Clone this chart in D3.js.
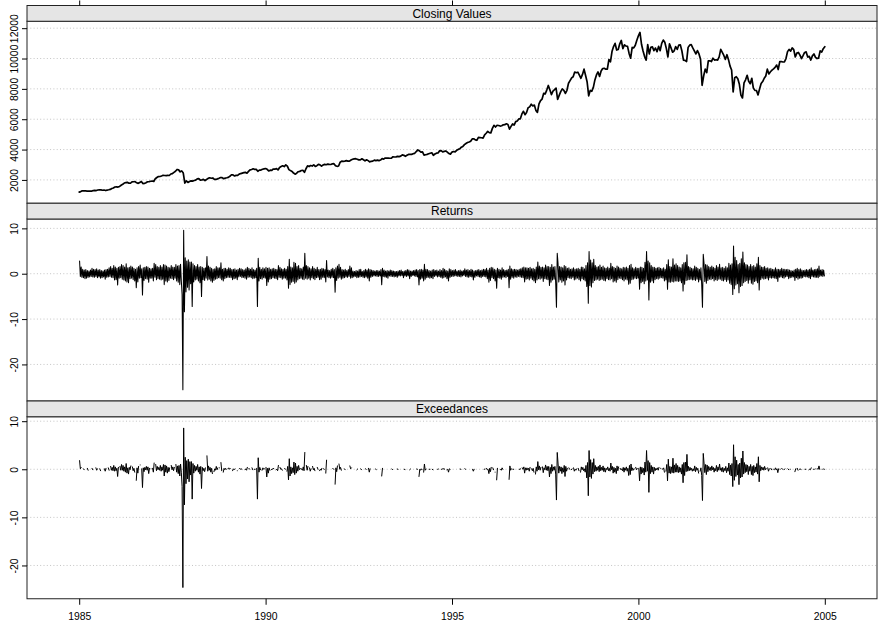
<!DOCTYPE html>
<html>
<head>
<meta charset="utf-8">
<script src="https://cdn.jsdelivr.net/npm/d3@7"></script>
<style>
  body { margin: 0; background: #fff; }
  svg text { font-family: "Liberation Sans", Arial, Helvetica, sans-serif; fill: #000; }
</style>
</head>
<body>
<svg id="chart" width="878" height="622"></svg>
<script>
// ---- Dow Jones Industrial Average, 1985-2004 ----------------------------
// Missing entries: stretches in which no daily return leaves the threshold band.
const _ = null;

const years = [1985, 1986, 1987, 1988, 1989, 1990, 1991, 1992, 1993, 1994,
               1995, 1996, 1997, 1998, 1999, 2000, 2001, 2002, 2003, 2004];

// Closing values: first close, then per year mid-month / month-end pairs (Jan..Dec).
const closingStart = 1199;
const cls1985 = [1230,1287, 1280,1284, 1260,1267, 1265,1258, 1300,1315, 1300,1335, 1350,1347, 1320,1334, 1300,1329, 1350,1374, 1435,1472, 1535,1547];
const cls1986 = [1530,1571, 1650,1709, 1795,1819, 1840,1784, 1780,1877, 1880,1893, 1810,1775, 1835,1898, 1760,1768, 1810,1878, 1890,1914, 1930,1896];
const cls1987 = [2080,2158, 2220,2224, 2260,2305, 2290,2286, 2300,2292, 2390,2419, 2500,2572, 2690,2663, 2530,2596, 2450,1790, 1940,1834, 1900,1939];
const cls1988 = [1920,1958, 1990,2072, 2090,1988, 2000,2032, 1960,2031, 2100,2142, 2110,2129, 2040,2032, 2070,2113, 2160,2149, 2080,2115, 2140,2169];
const cls1989 = [2240,2342, 2330,2258, 2300,2294, 2380,2419, 2450,2480, 2500,2440, 2560,2661, 2690,2737, 2690,2693, 2570,2645, 2650,2706, 2730,2753];
const cls1990 = [2700,2591, 2640,2627, 2720,2707, 2750,2657, 2820,2877, 2930,2881, 2990,2905, 2680,2614, 2560,2452, 2380,2442, 2540,2560, 2620,2634];
const cls1991 = [2500,2736, 2930,2882, 2950,2914, 2990,2888, 2940,3028, 2990,2907, 2980,3025, 3000,3044, 3020,3017, 3060,3069, 2940,2895, 2920,3169];
const cls1992 = [3240,3223, 3240,3268, 3240,3235, 3310,3359, 3390,3397, 3360,3319, 3320,3394, 3330,3257, 3330,3272, 3190,3226, 3240,3305, 3270,3301];
const cls1993 = [3270,3310, 3400,3371, 3440,3435, 3440,3428, 3440,3527, 3510,3516, 3550,3539, 3570,3651, 3620,3555, 3620,3681, 3690,3684, 3730,3754];
const cls1994 = [3870,3978, 3920,3832, 3850,3636, 3660,3682, 3720,3758, 3790,3625, 3710,3765, 3780,3913, 3930,3843, 3880,3908, 3830,3739, 3700,3834];
const cls1995 = [3870,3844, 3950,4011, 4050,4158, 4210,4321, 4400,4465, 4500,4556, 4700,4708, 4640,4611, 4800,4789, 4780,4755, 4970,5074, 5200,5117];
const cls1996 = [5100,5395, 5600,5486, 5600,5587, 5550,5569, 5630,5643, 5700,5655, 5350,5529, 5690,5616, 5840,5882, 6020,6029, 6350,6522, 6300,6448];
const cls1997 = [6750,6813, 6990,6878, 6930,6583, 6450,7009, 7230,7331, 7700,7673, 7920,8223, 7940,7622, 7850,7945, 8050,7300, 7570,7823, 8000,7908];
const cls1998 = [7700,7907, 8370,8546, 8720,8800, 9110,9063, 9100,8900, 8700,8952, 9300,8883, 8450,7539, 7900,7843, 8100,8592, 8920,9117, 8820,9181];
const cls1999 = [9340,9359, 9300,9307, 9930,9786, 10460,10789, 11000,10560, 10600,10971, 11190,10655, 10900,10829, 10800,10337, 10020,10730, 10700,10878, 11200,11497];
const cls2000 = [11720,10941, 10500,10128, 9900,10922, 10300,10734, 10770,10522, 10690,10448, 10800,10522, 11000,11215, 11070,10651, 10100,10971, 10700,10414, 10500,10788];
const cls2001 = [10600,10887, 10900,10495, 9900,9879, 9800,10735, 10880,10912, 10700,10502, 10300,10523, 10300,9950, 8236,8848, 9300,9075, 9850,9852, 9800,10022];
const cls2002 = [9900,9920, 9900,10106, 10600,10404, 10200,9946, 10250,9925, 9500,9243, 7800,8737, 8800,8664, 8300,7592, 7400,8397, 8600,8896, 8500,8342];
const cls2003 = [8700,8054, 7900,7891, 7600,7992, 8350,8480, 8700,8850, 9300,8985, 9130,9234, 9320,9416, 9570,9275, 9800,9801, 9770,9782, 10000,10454];
const cls2004 = [10600,10488, 10700,10584, 10100,10358, 10400,10226, 10000,10188, 10400,10435, 10100,10140, 9900,10174, 10300,10080, 10000,10027, 10500,10428, 10650,10783];

// Daily log returns (%), four swings per month (Jan..Dec).
const ret1985 = [2.8,-0.6,1.5,-0.8, 1.0,-0.9,0.8,-1.1, 0.9,-1.0,0.7,-0.8, 0.6,-0.7,0.8,-0.6, 1.2,-0.7,1.0,-0.8, 0.9,-0.6,1.1,-0.9, 0.8,-0.7,0.9,-1.0, 0.7,-0.9,0.6,-0.7, 0.8,-1.2,0.9,-0.8, 1.0,-0.7,1.3,-0.6, 1.6,-0.8,1.2,-0.9, 1.8,-1.4,1.5,-1.3];
const ret1986 = [1.2,-2.5,1.4,-1.0, 1.6,-0.9,2.0,-1.2, 1.8,-1.4,1.5,-1.6, 2.2,-1.8,1.3,-2.0, 1.4,-1.1,1.7,-1.0, 1.5,-1.3,1.2,-1.6, 1.0,-3.1,1.3,-1.8, 1.6,-1.0,1.9,-0.9, 1.1,-4.7,1.3,-1.5, 1.4,-1.1,1.6,-1.2, 1.5,-1.9,1.2,-1.0, 1.1,-1.0,1.2,-1.6];
const ret1987 = [2.3,-0.8,2.0,-1.3, 1.6,-1.1,1.4,-1.2, 1.8,-1.4,1.5,-1.2, 2.0,-2.4,1.9,-1.6, 1.7,-1.8,1.4,-1.5, 1.3,-1.0,1.8,-1.1, 1.5,-1.3,1.4,-1.0, 2.0,-1.6,1.7,-1.9, 1.8,-2.4,2.1,-1.6, -4.6,-25.6,9.6,-8.4, 3.5,-4.0,2.8,-3.0, 3.1,-3.6,2.6,-2.2];
const ret1988 = [2.6,-7.2,2.2,-1.8, 1.8,-1.4,1.6,-1.2, 2.0,-1.6,1.5,-2.0, 1.6,-5.0,1.4,-1.3, 1.2,-1.5,1.3,-1.0, 3.8,-1.4,1.7,-1.2, 1.4,-1.6,1.2,-1.9, 1.0,-1.5,1.1,-1.2, 1.6,-1.1,1.3,-0.9, 1.3,-1.0,2.4,-1.3, 1.0,-1.6,1.2,-1.1, 1.2,-0.9,1.0,-0.8];
const ret1989 = [1.3,-0.8,1.2,-0.9, 0.9,-1.3,1.0,-1.1, 1.1,-1.0,0.8,-1.3, 1.0,-0.7,1.2,-0.6, 1.1,-0.9,0.9,-0.8, 0.8,-1.0,1.1,-1.2, 1.4,-0.8,1.2,-0.7, 1.0,-0.9,1.3,-1.1, 0.9,-1.0,0.8,-0.9, 1.2,-7.2,3.4,-1.6, 1.4,-1.1,1.0,-1.2, 1.3,-0.9,1.1,-1.0];
const ret1990 = [1.4,-2.6,1.2,-1.8, 1.3,-1.2,1.0,-1.1, 1.1,-0.9,1.2,-1.0, 1.0,-1.1,0.9,-1.3, 1.8,-0.8,1.4,-0.9, 1.1,-1.2,1.0,-1.0, 1.2,-1.0,1.0,-1.4, 1.6,-3.2,3.2,-2.4, 1.5,-1.9,1.3,-1.7, 2.5,-2.1,2.3,-1.8, 1.6,-1.4,1.8,-1.1, 1.2,-1.0,1.1,-1.2];
const ret1991 = [1.5,-1.3,4.5,-1.0, 1.8,-1.2,1.6,-1.0, 1.3,-1.4,1.1,-0.9, 1.6,-1.1,1.2,-1.3, 1.0,-0.9,1.4,-0.8, 0.9,-1.3,1.0,-1.2, 1.2,-0.8,1.1,-0.9, 0.9,-1.8,2.9,-0.7, 0.8,-0.9,0.7,-1.0, 1.0,-0.8,1.2,-0.9, 0.9,-4.1,1.3,-1.5, 1.7,-1.0,2.1,-0.8];
const ret1992 = [1.4,-1.2,0.9,-1.0, 0.8,-0.9,1.0,-0.7, 0.7,-0.8,0.9,-0.6, 1.7,-1.0,1.3,-0.9, 0.6,-0.7,0.5,-0.6, 0.7,-0.9,0.6,-0.8, 0.9,-0.7,1.0,-0.6, 0.5,-0.8,0.7,-0.9, 1.0,-0.7,0.8,-1.0, 1.1,-1.6,0.9,-0.8, 0.8,-0.6,0.7,-0.5, 0.6,-0.5,0.7,-0.6];
const ret1993 = [0.7,-0.6,0.6,-0.5, 0.9,-2.4,1.2,-0.6, 0.8,-0.7,0.6,-0.8, 0.7,-1.0,0.6,-0.5, 0.8,-0.6,0.7,-0.6, 0.6,-0.7,0.5,-0.6, 0.5,-0.8,0.6,-0.5, 0.7,-0.5,0.8,-0.4, 0.5,-0.9,0.6,-0.5, 0.7,-0.6,0.9,-0.5, 0.8,-1.1,0.6,-0.6, 0.6,-0.4,0.7,-0.5];
const ret1994 = [0.8,-0.6,0.9,-0.7, 0.7,-2.5,0.9,-1.2, 1.0,-1.0,0.8,-1.6, 2.1,-1.2,1.0,-0.9, 0.9,-0.8,0.7,-1.0, 0.6,-0.9,0.8,-1.1, 0.9,-0.6,0.7,-0.5, 0.8,-0.7,0.6,-0.6, 0.9,-0.8,0.7,-1.0, 1.2,-0.9,1.0,-0.7, 0.7,-1.1,0.6,-1.6, 1.1,-0.8,0.9,-0.6];
const ret1995 = [0.7,-0.6,0.8,-0.5, 0.9,-0.5,0.6,-0.6, 0.7,-0.6,0.8,-0.7, 0.6,-0.5,0.7,-0.4, 1.1,-0.6,0.8,-0.7, 0.9,-0.8,0.7,-0.6, 1.0,-0.7,0.8,-1.4, 0.6,-0.8,0.7,-0.5, 0.8,-0.6,0.9,-0.7, 0.7,-0.9,0.8,-0.6, 1.0,-0.6,0.9,-0.7, 1.2,-1.1,0.8,-1.9];
const ret1996 = [1.2,-1.5,1.4,-0.9, 1.3,-1.1,1.0,-1.6, 0.8,-3.2,1.2,-0.9, 1.0,-1.0,0.8,-1.2, 1.3,-0.8,0.9,-0.7, 0.7,-0.9,0.8,-0.6, 1.0,-3.1,1.7,-1.2, 1.1,-0.8,0.9,-1.0, 1.0,-0.7,0.9,-0.8, 0.8,-0.6,1.0,-0.7, 1.1,-0.8,1.3,-0.9, 1.5,-1.8,1.3,-1.2];
const ret1997 = [1.3,-1.1,1.2,-1.4, 1.4,-1.0,1.1,-1.3, 1.2,-1.6,1.0,-2.0, 1.5,-1.4,2.6,-1.1, 1.7,-1.2,1.4,-1.0, 1.5,-1.7,1.3,-1.1, 1.9,-1.2,1.6,-1.3, 1.6,-2.6,1.4,-1.9, 2.0,-1.4,1.5,-1.2, 1.6,-2.0,-7.4,4.5, 2.3,-1.8,1.6,-1.4, 1.5,-1.9,1.3,-1.6];
const ret1998 = [1.8,-2.5,1.6,-1.4, 1.2,-0.9,1.3,-1.0, 1.0,-1.1,1.1,-0.8, 1.3,-1.4,1.0,-1.2, 1.1,-1.0,1.2,-1.3, 1.0,-1.6,1.5,-1.1, 1.4,-1.3,1.1,-1.6, 1.8,-2.8,2.4,-6.5, 4.9,-2.6,3.0,-2.9, 2.4,-2.0,3.2,-1.5, 1.8,-1.4,1.5,-1.2, 1.6,-1.5,1.9,-1.3];
const ret1999 = [1.4,-1.2,1.7,-1.5, 1.3,-1.6,1.2,-1.1, 1.5,-1.3,1.2,-1.4, 2.3,-1.1,1.6,-1.8, 1.4,-1.6,1.2,-1.9, 1.7,-1.3,1.5,-1.0, 1.2,-1.1,1.1,-1.3, 1.4,-1.6,1.3,-1.2, 1.5,-1.4,1.2,-2.3, 1.8,-2.1,2.1,-1.3, 1.3,-1.2,1.1,-1.0, 1.4,-1.1,1.2,-1.0];
const ret2000 = [1.2,-3.4,1.5,-2.0, 1.4,-1.7,1.2,-2.2, 2.5,-1.6,4.9,-1.4, 2.8,-5.8,2.4,-1.9, 1.8,-1.6,1.5,-2.0, 1.4,-1.3,1.2,-1.1, 1.3,-1.2,1.4,-1.0, 1.2,-0.9,1.1,-1.0, 1.3,-1.6,1.0,-1.4, 2.0,-3.4,3.1,-1.8, 1.6,-1.9,1.5,-1.7, 3.3,-1.8,1.9,-1.6];
const ret2001 = [2.2,-1.6,1.8,-1.7, 1.5,-1.6,1.3,-2.0, 2.0,-3.8,2.4,-2.3, 2.5,-1.5,4.2,-1.4, 1.6,-1.3,1.4,-1.2, 1.2,-1.4,1.1,-1.3, 1.7,-1.5,1.4,-1.2, 1.2,-1.8,1.0,-1.4, 1.3,-2.3,-7.4,4.3, 2.3,-1.7,2.0,-2.1, 1.9,-1.5,1.6,-1.2, 1.4,-1.3,1.7,-1.1];
const ret2002 = [1.4,-1.6,1.2,-1.3, 1.8,-1.5,1.5,-1.2, 2.1,-1.2,1.3,-1.5, 1.4,-1.6,1.2,-1.3, 1.6,-1.7,1.3,-1.4, 2.3,-2.1,1.9,-2.4, 2.2,-4.6,6.1,-3.3, 3.6,-2.5,2.9,-2.2, 2.0,-4.2,2.3,-2.8, 3.3,-2.6,4.8,-2.0, 2.4,-1.7,2.0,-1.5, 1.9,-2.1,1.6,-1.4];
const ret2003 = [2.0,-2.1,1.6,-2.3, 1.8,-1.7,1.5,-1.6, 2.2,-2.0,3.6,-3.6, 1.8,-1.3,1.5,-1.0, 1.4,-1.2,1.6,-1.1, 1.2,-1.0,1.3,-1.4, 1.1,-0.9,1.2,-1.0, 1.0,-0.9,0.9,-1.0, 1.3,-1.1,1.0,-1.7, 1.0,-0.8,0.9,-0.7, 1.2,-0.9,1.0,-1.0, 1.0,-0.7,0.9,-0.6];
const ret2004 = [1.0,-1.1,0.8,-0.9, 0.7,-0.8,0.6,-0.7, 0.8,-1.5,1.0,-0.9, 1.2,-1.2,0.9,-1.0, 1.1,-1.0,0.8,-0.9, 0.7,-0.6,0.8,-0.7, 0.9,-0.7,0.8,-0.9, 1.0,-1.1,1.3,-0.6, 0.8,-0.7,0.9,-0.8, 1.0,-0.8,1.1,-0.9, 1.7,-0.6,0.8,-0.5, 0.9,-0.6,0.8,-0.5];

// Exceedances beyond the threshold band (%), same four slots per month.
const exc1985 = [1.8,0.1,0.4,_, _,0.1,-0.1,_, _,_,0.2,-0.2, _,_,_,_, 0.2,-0.1,_,_, _,0.3,-0.2,0.1, _,_,0.1,-0.3, _,_,_,_, 0.1,-0.4,0.2,_, _,0.3,-0.2,_, 0.6,-0.2,0.4,-0.3, 0.8,-0.4,0.5,-0.3];
const exc1986 = [0.2,-1.5,0.4,_, 0.6,-0.2,1.0,-0.2, 0.8,-0.4,0.5,-0.6, 1.2,-0.8,0.3,-1.0, 0.4,-0.1,0.7,_, 0.5,-0.3,0.2,-0.6, _,-2.3,0.3,-0.8, 0.6,_,0.9,_, 0.1,-3.8,0.3,-0.5, 0.4,-0.1,0.6,-0.2, 0.5,-0.9,0.2,_, 0.1,_,0.2,-0.6];
const exc1987 = [1.3,_,1.0,-0.3, 0.6,-0.1,0.4,-0.2, 0.8,-0.4,0.5,-0.2, 1.0,-1.4,0.9,-0.6, 0.7,-0.8,0.4,-0.5, 0.3,_,0.8,-0.1, 0.5,-0.3,0.4,_, 1.0,-0.6,0.7,-0.9, 0.8,-1.4,1.1,-0.6, -3.6,-24.6,8.6,-7.4, 2.5,-3.0,1.8,-2.0, 2.1,-2.6,1.6,-1.2];
const exc1988 = [1.6,-6.2,1.2,-0.8, 0.8,-0.4,0.6,-0.2, 1.0,-0.6,0.5,-1.0, 0.6,-4.0,0.4,-0.3, 0.2,-0.5,0.3,_, 2.8,-0.4,0.7,-0.2, 0.4,-0.6,0.2,-0.9, _,-0.5,0.1,-0.2, 0.6,-0.1,0.3,_, 0.3,_,1.4,-0.3, _,-0.6,0.2,-0.1, 0.2,0.0,_,0.1];
const exc1989 = [0.3,0.0,0.2,_, _,-0.3,0.1,-0.1, 0.1,_,_,-0.3, _,_,0.2,0.0, 0.1,0.0,_,_, _,-0.1,0.1,-0.2, 0.4,_,0.2,0.0, _,_,0.3,-0.1, _,0.0,0.0,_, 0.2,-6.2,2.4,-0.6, 0.4,-0.1,_,-0.2, 0.3,0.0,0.1,_];
const exc1990 = [0.4,-1.6,0.2,-0.8, 0.3,-0.2,_,-0.1, 0.1,0.0,0.2,_, _,-0.1,0.0,-0.3, 0.8,_,0.4,0.0, 0.1,-0.2,_,_, 0.2,0.0,_,-0.4, 0.6,-2.2,2.2,-1.4, 0.5,-0.9,0.3,-0.7, 1.5,-1.1,1.3,-0.8, 0.6,-0.4,0.8,-0.1, 0.2,0.0,0.1,-0.2];
const exc1991 = [0.5,-0.3,3.5,_, 0.8,-0.2,0.6,_, 0.3,-0.4,0.1,_, 0.6,-0.1,0.2,-0.3, _,_,0.4,0.0, _,-0.3,0.0,-0.2, 0.2,_,0.1,0.0, _,-0.8,1.9,_, _,_,_,_, _,_,0.2,0.0, _,-3.1,0.3,-0.5, 0.7,_,1.1,0.0];
const exc1992 = [0.4,-0.2,_,_, _,0.1,-0.1,_, _,_,_,_, 0.7,0.1,0.3,_, _,_,_,_, _,-0.1,0.05,_, _,_,0.1,-0.1, _,_,_,_, 0.1,0.0,_,_, 0.2,-0.6,0.1,_, _,_,_,_, _,0.05,-0.05,_];
const exc1993 = [_,_,_,_, _,-1.4,0.2,_, _,_,_,_, _,_,_,_, _,_,0.05,-0.05, _,_,_,_, _,0.05,0.0,_, _,_,_,_, _,_,0.0,-0.05, _,_,_,_, _,-0.1,0.05,_, _,_,_,_];
const exc1994 = [_,_,0.05,0.0, _,-1.5,0.0,-0.2, 0.1,-0.1,_,-0.6, 1.1,-0.2,0.05,_, _,_,0.0,0.0, _,_,0.0,-0.1, _,_,_,_, _,0.0,0.05,_, _,_,0.0,0.0, 0.2,0.0,0.05,_, _,-0.1,0.0,-0.6, 0.1,0.0,_,_];
const exc1995 = [_,_,_,_, _,_,_,_, _,_,0.05,0.0, _,_,_,_, 0.1,0.0,_,_, _,_,_,_, _,_,0.0,-0.4, 0.0,_,_,_, _,_,_,_, _,_,_,_, _,0.0,0.05,_, 0.2,-0.1,0.0,-0.9];
const exc1996 = [0.2,-0.5,0.4,_, 0.3,-0.1,_,-0.6, _,-2.2,0.2,_, _,_,0.0,-0.2, 0.3,0.0,_,_, _,_,_,_, _,-2.1,0.7,-0.2, 0.1,_,0.0,0.0, _,_,_,_, _,_,0.0,0.0, 0.1,_,0.3,0.0, 0.5,-0.8,0.3,-0.2];
const exc1997 = [0.3,-0.1,0.2,-0.4, 0.4,_,0.1,-0.3, 0.2,-0.6,_,-1.0, 0.5,-0.4,1.6,-0.1, 0.7,-0.2,0.4,_, 0.5,-0.7,0.3,-0.1, 0.9,-0.2,0.6,-0.3, 0.6,-1.6,0.4,-0.9, 1.0,-0.4,0.5,-0.2, 0.6,-1.0,-6.4,3.5, 1.3,-0.8,0.6,-0.4, 0.5,-0.9,0.3,-0.6];
const exc1998 = [0.8,-1.5,0.6,-0.4, 0.2,_,0.3,0.0, _,-0.1,0.1,_, 0.3,-0.4,0.0,-0.2, 0.1,_,0.2,-0.3, _,-0.6,0.5,-0.1, 0.4,-0.3,0.1,-0.6, 0.8,-1.8,1.4,-5.5, 3.9,-1.6,2.0,-1.9, 1.4,-1.0,2.2,-0.5, 0.8,-0.4,0.5,-0.2, 0.6,-0.5,0.9,-0.3];
const exc1999 = [0.4,-0.2,0.7,-0.5, 0.3,-0.6,0.2,-0.1, 0.5,-0.3,0.2,-0.4, 1.3,-0.1,0.6,-0.8, 0.4,-0.6,0.2,-0.9, 0.7,-0.3,0.5,_, 0.2,-0.1,0.1,-0.3, 0.4,-0.6,0.3,-0.2, 0.5,-0.4,0.2,-1.3, 0.8,-1.1,1.1,-0.3, 0.3,-0.2,0.1,_, 0.4,-0.1,0.2,_];
const exc2000 = [0.2,-2.4,0.5,-1.0, 0.4,-0.7,0.2,-1.2, 1.5,-0.6,3.9,-0.4, 1.8,-4.8,1.4,-0.9, 0.8,-0.6,0.5,-1.0, 0.4,-0.3,0.2,-0.1, 0.3,-0.2,0.4,_, 0.2,_,0.1,0.0, 0.3,-0.6,_,-0.4, 1.0,-2.4,2.1,-0.8, 0.6,-0.9,0.5,-0.7, 2.3,-0.8,0.9,-0.6];
const exc2001 = [1.2,-0.6,0.8,-0.7, 0.5,-0.6,0.3,-1.0, 1.0,-2.8,1.4,-1.3, 1.5,-0.5,3.1,-0.4, 0.6,-0.3,0.4,-0.2, 0.2,-0.4,0.1,-0.3, 0.7,-0.5,0.4,-0.2, 0.2,-0.8,_,-0.4, 0.3,-1.3,-6.5,3.3, 1.3,-0.7,1.0,-1.1, 0.9,-0.5,0.6,-0.2, 0.4,-0.3,0.7,-0.1];
const exc2002 = [0.4,-0.6,0.2,-0.3, 0.8,-0.5,0.5,-0.2, 1.1,-0.2,0.3,-0.5, 0.4,-0.6,0.2,-0.3, 0.6,-0.7,0.3,-0.4, 1.3,-1.1,0.9,-1.4, 1.2,-3.6,5.1,-2.3, 2.6,-1.5,1.9,-1.2, 1.0,-3.2,1.3,-1.8, 2.3,-1.6,3.8,-1.0, 1.4,-0.7,1.0,-0.5, 0.9,-1.1,0.6,-0.4];
const exc2003 = [1.0,-1.1,0.6,-1.3, 0.8,-0.7,0.5,-0.6, 1.2,-1.0,2.6,-2.6, 0.8,-0.3,0.5,-0.1, 0.4,-0.2,0.6,-0.1, 0.2,_,0.3,-0.4, 0.1,_,0.2,-0.1, _,0.0,_,-0.1, 0.3,-0.1,0.1,-0.7, 0.1,_,0.0,_, 0.2,0.0,_,-0.1, 0.1,_,_,_];
const exc2004 = [0.1,-0.1,_,0.0, _,_,_,_, _,-0.5,0.1,_, 0.2,-0.2,_,0.0, 0.1,-0.1,_,_, _,_,0.0,0.0, _,_,_,-0.1, 0.0,-0.1,0.3,_, _,0.0,0.0,_, 0.1,_,0.1,0.0, 0.7,0.0,_,_, 0.0,_,0.05,0.0];

const closingByYear = [cls1985, cls1986, cls1987, cls1988, cls1989, cls1990, cls1991, cls1992, cls1993, cls1994,
                       cls1995, cls1996, cls1997, cls1998, cls1999, cls2000, cls2001, cls2002, cls2003, cls2004];
const returnsByYear = [ret1985, ret1986, ret1987, ret1988, ret1989, ret1990, ret1991, ret1992, ret1993, ret1994,
                       ret1995, ret1996, ret1997, ret1998, ret1999, ret2000, ret2001, ret2002, ret2003, ret2004];
const exceedByYear  = [exc1985, exc1986, exc1987, exc1988, exc1989, exc1990, exc1991, exc1992, exc1993, exc1994,
                       exc1995, exc1996, exc1997, exc1998, exc1999, exc2000, exc2001, exc2002, exc2003, exc2004];

const stripLabels  = ["Closing Values", "Returns", "Exceedances"];
const xTickValues  = [1985, 1990, 1995, 2000, 2005];
const closingTicks = [2000, 4000, 6000, 8000, 10000, 12000];
const returnTicks  = [-20, -10, 0, 10];

// ---- series with decimal-year time stamps --------------------------------
const closingSeries = [{ t: years[0], v: closingStart }];
years.forEach((yr, i) => closingByYear[i].forEach((v, j) => {
  const month = Math.floor(j / 2);
  closingSeries.push({ t: yr + (month + (j % 2 ? 1 : 0.5)) / 12, v });
}));
function quarterMonthSeries(byYear) {
  const out = [];
  years.forEach((yr, i) => byYear[i].forEach((v, j) => out.push({ t: yr + (j + 0.5) / 48, v })));
  return out;
}
const returnSeries = quarterMonthSeries(returnsByYear);
const exceedSeries = quarterMonthSeries(exceedByYear);

const panels = [
  { label: stripLabels[0], series: closingSeries, ticks: closingTicks, width: 1.7 },
  { label: stripLabels[1], series: returnSeries,  ticks: returnTicks,  width: 1.05 },
  { label: stripLabels[2], series: exceedSeries,  ticks: returnTicks,  width: 1.0 }
];

// ---- layout ----------------------------------------------------------------
const svg = d3.select("#chart");
const left = 27, right = 877;
const top0 = 5.5, stripH = 15.75, panelH = 182;
const pad = ([lo, hi]) => { const r = hi - lo; return [lo - 0.07 * r, hi + 0.07 * r]; };

const x = d3.scaleLinear()
  .domain(pad(d3.extent(closingSeries, d => d.t)))
  .range([left, right]);

panels.forEach((p, i) => {
  const stripTop = top0 + i * (stripH + panelH);
  const pTop = stripTop + stripH;
  const pBot = pTop + panelH;
  const y = d3.scaleLinear()
    .domain(pad(d3.extent(p.series, d => d.v)))
    .range([pBot, pTop]);

  const g = svg.append("g");

  // dotted horizontal reference lines
  g.selectAll("line.grid").data(p.ticks).join("line")
    .attr("class", "grid")
    .attr("x1", left).attr("x2", right)
    .attr("y1", d => y(d)).attr("y2", d => y(d))
    .attr("stroke", "#c4c4c4").attr("stroke-width", 1)
    .attr("stroke-dasharray", "1,2.3");

  // series line
  const line = d3.line().defined(d => d.v != null).x(d => x(d.t)).y(d => y(d.v));
  g.append("path").datum(p.series)
    .attr("d", line)
    .attr("fill", "none").attr("stroke", "#000")
    .attr("stroke-width", p.width)
    .attr("stroke-linejoin", "round").attr("stroke-linecap", "round");

  // panel frame
  g.append("rect")
    .attr("x", left).attr("y", pTop).attr("width", right - left).attr("height", panelH)
    .attr("fill", "none").attr("stroke", "#222").attr("stroke-width", 1);

  // strip
  g.append("rect")
    .attr("x", left).attr("y", stripTop).attr("width", right - left).attr("height", stripH)
    .attr("fill", "#e5e5e5").attr("stroke", "#222").attr("stroke-width", 1);
  g.append("text")
    .attr("x", (left + right) / 2).attr("y", stripTop + stripH / 2 + 4.3)
    .attr("text-anchor", "middle").attr("font-size", 12)
    .text(p.label);

  // left axis with rotated labels
  const axis = d3.axisLeft(y).tickValues(p.ticks).tickSize(5).tickSizeOuter(0).tickFormat(d => String(d));
  const ag = svg.append("g").attr("transform", `translate(${left},0)`).call(axis);
  ag.select(".domain").remove();
  ag.attr("font-family", null).attr("font-size", null);
  ag.selectAll(".tick line").attr("stroke", "#000");
  ag.selectAll(".tick text")
    .attr("transform", "rotate(-90)")
    .attr("x", 0).attr("y", -9.5).attr("dy", null)
    .attr("text-anchor", "middle")
    .attr("font-size", 10.4);

  if (i === 0) {
    const topAxis = d3.axisTop(x).tickValues(xTickValues).tickSize(5).tickSizeOuter(0).tickFormat("");
    const tg = svg.append("g").attr("transform", `translate(0,${stripTop})`).call(topAxis);
    tg.select(".domain").remove();
    tg.selectAll(".tick line").attr("stroke", "#000");
  }
  if (i === panels.length - 1) {
    const bottomAxis = d3.axisBottom(x).tickValues(xTickValues).tickSize(6).tickSizeOuter(0).tickFormat(d => String(d));
    const bg = svg.append("g").attr("transform", `translate(0,${pBot})`).call(bottomAxis);
    bg.select(".domain").remove();
    bg.attr("font-family", null).attr("font-size", null);
    bg.selectAll(".tick line").attr("stroke", "#000");
    bg.selectAll(".tick text").attr("y", 21).attr("dy", null).attr("font-size", 10.4);
  }
});
</script>
</body>
</html>
